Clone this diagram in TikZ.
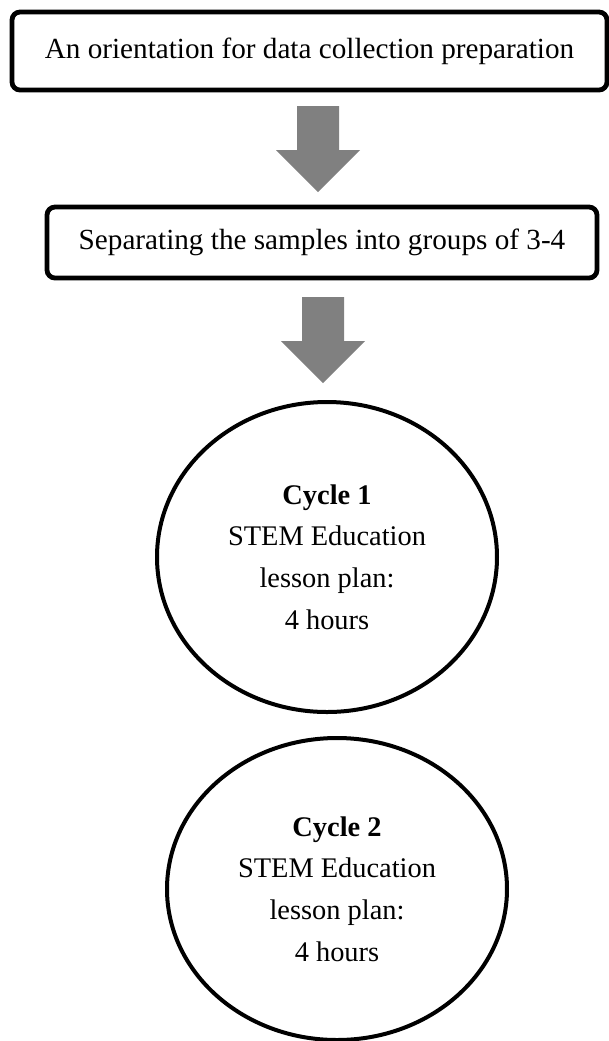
\documentclass[tikz,border=0pt]{standalone}
\usepackage{fontspec}
\setmainfont{Liberation Serif}
\usetikzlibrary{shapes.geometric}
\definecolor{arrowgray}{rgb}{0.5, 0.5, 0.5}
\tikzstyle{stagebox}=[draw, rounded corners=4pt, line width=2.4pt, inner sep=0pt, font=\fontsize{14.6}{20.5}\selectfont]
\tikzstyle{cyclebox}=[draw, ellipse, line width=2pt, inner sep=0pt, align=center, font=\fontsize{14.2}{20.8}\selectfont]

\begin{document}
\begin{tikzpicture}[x=0.5pt,y=-0.5pt]
\useasboundingbox (0,0) rectangle (609,1041);
\node[stagebox, minimum width=297.5pt, minimum height=39pt] (orient) at (309.5,51) {An orientation for data collection preparation};
\node[stagebox, minimum width=275pt, minimum height=35.5pt] (groups) at (322,242.5) {Separating the samples into groups of 3-4};
\node[cyclebox, minimum width=170pt, minimum height=155pt] (cycone) at (327,557) {\textbf{Cycle 1}\\STEM Education\\lesson plan:\\4 hours};
\node[cyclebox, minimum width=170pt, minimum height=151pt] (cyctwo) at (337,889) {\textbf{Cycle 2}\\STEM Education\\lesson plan:\\4 hours};
\foreach \x/\y in {318/106,323/297}
  \fill[arrowgray] (\x-21,\y) -- ++(42,0) -- ++(0,44) -- ++(21,0) -- ++(-42,42) -- ++(-42,-42) -- ++(21,0) -- cycle;
%\draw[arrowgray] (orient) -- (groups);
\end{tikzpicture}
\end{document}
